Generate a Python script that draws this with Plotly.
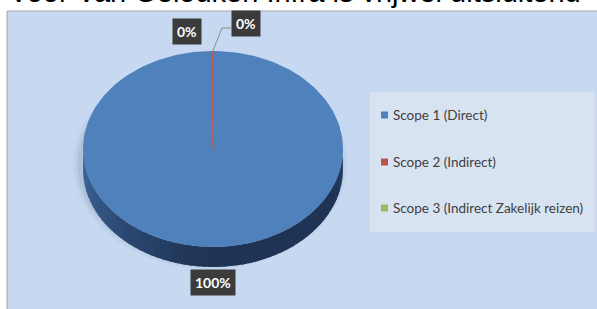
import math
import plotly.graph_objects as go

# ---- data ----
categories = ["Scope 1 (Direct)", "Scope 2 (Indirect)", "Scope 3 (Indirect Zakelijk reizen)"]
values = [99.85, 0.14, 0.01]
pct_labels = ["100%", "0%", "0%"]
colors = ["#4f81bd", "#c0504d", "#9bbb59"]
heading = "Voor Van Gelouken Infra is vrijwel uitsluitend"

# ---- layout constants (pixels) ----
W, H = 597, 309
CX, CY, RX, RY, DEPTH = 213, 149, 130, 98, 20

def pt(theta_deg, dy=0.0):
    t = math.radians(theta_deg)
    return CX + RX * math.sin(t), CY - RY * math.cos(t) + dy

fig = go.Figure()

# soft shadow
for k, a in [(7, 0.04), (4, 0.05), (2, 0.06)]:
    xs, ys = [], []
    for i in range(121):
        th = i * 3
        x, y = pt(th, DEPTH * 0.6)
        xs.append(CX + (x - CX) * (1 + k / RX) - 3)
        ys.append(CY + DEPTH * 0.6 + (y - CY - DEPTH * 0.6) * (1 + k / RY) + 3)
    fig.add_trace(go.Scatter(x=xs, y=ys, fill="toself", mode="lines",
                             line=dict(width=0), fillcolor=f"rgba(40,50,70,{a})",
                             hoverinfo="skip", showlegend=False))

# side band with gradient (lower half, from right 90deg to left 270deg)
def lerp(c1, c2, t):
    return "#%02x%02x%02x" % tuple(int(round(c1[i] + (c2[i] - c1[i]) * t)) for i in range(3))

dark = (0x1f, 0x34, 0x55)
right_c = (0x27, 0x44, 0x6c)
left_c = (0x40, 0x6b, 0xa2)
N = 60
step = 180.0 / N
for i in range(N):
    th1 = 90 + step * i
    th2 = min(270, th1 + step * 1.8)
    tm = (i + 0.5) / N
    if tm < 0.12:
        c = lerp(right_c, dark, tm / 0.12)
    elif tm < 0.5:
        c = lerp(dark, dark, 0)
    else:
        c = lerp(dark, left_c, ((tm - 0.5) / 0.5) ** 1.3)
    xs, ys = [], []
    for j in range(5):
        x, y = pt(th1 + (th2 - th1) * j / 4)
        xs.append(x); ys.append(y)
    for j in range(4, -1, -1):
        x, y = pt(th1 + (th2 - th1) * j / 4, DEPTH)
        xs.append(x); ys.append(y)
    xs.append(xs[0]); ys.append(ys[0])
    fig.add_trace(go.Scatter(x=xs, y=ys, fill="toself", mode="lines", line=dict(width=0),
                             fillcolor=c, hoverinfo="skip", showlegend=False))

# top face wedges, clockwise from 12 o'clock
total = sum(values)
start = 0.0
slice_angles = []
for v, col in zip(values, colors):
    span = 360.0 * v / total
    a0, a1 = start, start + span
    slice_angles.append((a0, a1))
    steps = max(2, int(span / 2))
    xs, ys = [CX], [CY]
    for j in range(steps + 1):
        x, y = pt(a0 + span * j / steps)
        xs.append(x); ys.append(y)
    xs.append(CX); ys.append(CY)
    lw = 0 if span > 2 else min(0.8, span * 1.6)
    fig.add_trace(go.Scatter(x=xs, y=ys, fill="toself", mode="lines",
                             line=dict(width=lw, color=col),
                             fillcolor=col, hoverinfo="skip", showlegend=False))
    start = a1

# data labels (one per slice, in category order)
label_pos = [(213, 282), (187, 31), (246, 23)]
annotations = []
for lab, (lx, ly) in zip(pct_labels, label_pos):
    annotations.append(dict(x=lx, y=ly, xref="x", yref="y", text=f"<b>{lab}</b>",
                            showarrow=False, font=dict(family="Lato", size=14, color="white"),
                            bgcolor="#3b3b3b", borderpad=4, xanchor="center", yanchor="middle"))

# leader line for the last slice label
edge_x, edge_y = pt(slice_angles[2][0])
shapes = [
    dict(type="rect", xref="x", yref="y", x0=7, y0=11, x1=W + 5, y1=H + 5,
         fillcolor="#c6d9f0", line=dict(color="#a8a8a8", width=1), layer="below"),
    dict(type="rect", xref="x", yref="y", x0=370, y0=92, x1=595, y1=232,
         fillcolor="#d8e3f2", line=dict(width=0), layer="below"),
    dict(type="path", xref="x", yref="y",
         path=f"M {edge_x:.1f} {edge_y:.1f} L 222 28 L 231 28",
         line=dict(color="#8c8c8c", width=1)),
]

# legend
leg_y = [115, 162, 208]
for cat, col, y in zip(categories, colors, leg_y):
    shapes.append(dict(type="rect", xref="x", yref="y", x0=381, x1=388, y0=y - 3.5, y1=y + 3.5,
                       fillcolor=col, line=dict(width=0)))
    annotations.append(dict(x=391, y=y, xref="x", yref="y", text=cat, showarrow=False,
                            xanchor="left", yanchor="middle",
                            font=dict(family="Lato", size=13.5, color="#404040")))

# heading text (cut off at the top, as in the source)
annotations.append(dict(x=7, y=10, xref="x", yref="y", text=heading, showarrow=False,
                        xanchor="left", yanchor="bottom",
                        font=dict(family="Liberation Sans", size=29, color="black")))

fig.update_layout(
    width=W, height=H, margin=dict(l=0, r=0, t=0, b=0),
    paper_bgcolor="white", plot_bgcolor="rgba(0,0,0,0)",
    xaxis=dict(range=[0, W], visible=False, fixedrange=True),
    yaxis=dict(range=[H, 0], visible=False, fixedrange=True),
    shapes=shapes, annotations=annotations, showlegend=False,
)

fig.write_html("out.html", config={"displayModeBar": False},
               post_script="document.body.style.margin='0px';document.body.style.overflow='hidden';")
